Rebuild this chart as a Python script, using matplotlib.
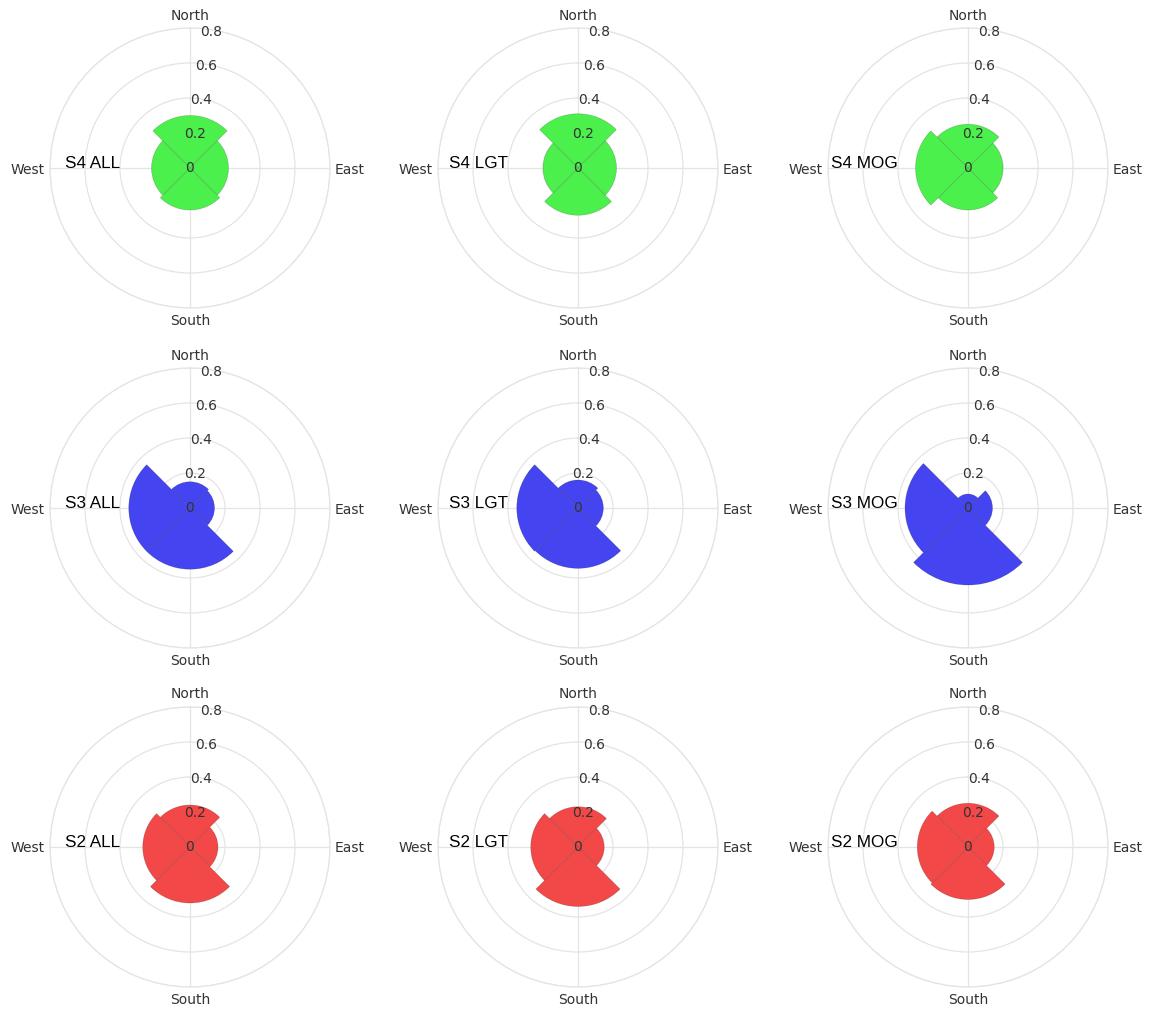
import numpy as np
import matplotlib.pyplot as plt

# direction sectors (centred on the cardinal points, 90 deg wide)
directions = ['North', 'East', 'South', 'West']
angles_deg = [0, 90, 180, 270]

# relative frequency per direction (N, E, S, W)
s4_all = [0.30, 0.22, 0.24, 0.22]
s4_lgt = [0.31, 0.22, 0.27, 0.20]
s4_mog = [0.25, 0.20, 0.24, 0.30]
s3_all = [0.15, 0.14, 0.35, 0.35]
s3_lgt = [0.16, 0.145, 0.345, 0.35]
s3_mog = [0.08, 0.14, 0.44, 0.36]
s2_all = [0.24, 0.16, 0.32, 0.27]
s2_lgt = [0.23, 0.15, 0.34, 0.27]
s2_mog = [0.25, 0.15, 0.30, 0.29]

panels = [
    [('S4 ALL', s4_all), ('S4 LGT', s4_lgt), ('S4 MOG', s4_mog)],
    [('S3 ALL', s3_all), ('S3 LGT', s3_lgt), ('S3 MOG', s3_mog)],
    [('S2 ALL', s2_all), ('S2 LGT', s2_lgt), ('S2 MOG', s2_mog)],
]
row_colors = ['#4cf04c', '#4444f0', '#f24848']
r_ticks = [0, 0.2, 0.4, 0.6, 0.8]

W, H = 1149, 1010
fig = plt.figure(figsize=(W / 100, H / 100), dpi=100)

centers_x = [190, 578, 968]
centers_y = [168, 508, 847]
rad = 140  # pixels of the 0.8 ring

grid_col = '#e4e4e4'
txt_col = '#333333'

for i, row in enumerate(panels):
    for j, (name, vals) in enumerate(row):
        cx, cy = centers_x[j], centers_y[i]
        ax = fig.add_axes([(cx - rad) / W, 1 - (cy + rad) / H, 2 * rad / W, 2 * rad / H],
                          projection='polar')
        ax.set_theta_zero_location('N')
        ax.set_theta_direction(-1)
        ax.set_axisbelow(True)

        theta = np.radians(angles_deg)
        ax.bar(theta, vals, width=np.radians(90), color=row_colors[i],
               edgecolor=(0, 0, 0, 0.2), linewidth=0.5, zorder=2)

        ax.set_ylim(0, 0.8)
        ax.set_yticks(r_ticks)
        ax.set_yticklabels([])
        ax.set_xticks(theta)
        ax.set_xticklabels([])
        ax.tick_params(length=0)
        ax.grid(True, color=grid_col, linewidth=0.9)
        ax.spines['polar'].set_color(grid_col)
        ax.spines['polar'].set_linewidth(0.9)

        # radial labels
        for r in r_ticks:
            lbl = '0' if r == 0 else f'{r:.1f}'
            ax.text(np.radians(9), r * 0.985, lbl, ha='center', va='center',
                    fontsize=10, color=txt_col, zorder=5)

        # cardinal labels
        offs = {'North': (0, 9, 'center', 'center'),
                'East': (3, 0, 'left', 'center_baseline'),
                'South': (0, -9.5, 'center', 'center'),
                'West': (-3.5, 0, 'right', 'center_baseline')}
        for d, a in zip(directions, angles_deg):
            dx, dy, ha, va = offs[d]
            ax.annotate(d, xy=(np.radians(a), 0.8), xytext=(dx, dy),
                        textcoords='offset points', ha=ha, va=va,
                        fontsize=10, color=txt_col, annotation_clip=False)

        ax.text(np.radians(270), 0.40, name, ha='right', va='baseline',
                fontsize=12.3, family='Liberation Sans', color='black', zorder=5)

fig.savefig('out.png', dpi=100)
